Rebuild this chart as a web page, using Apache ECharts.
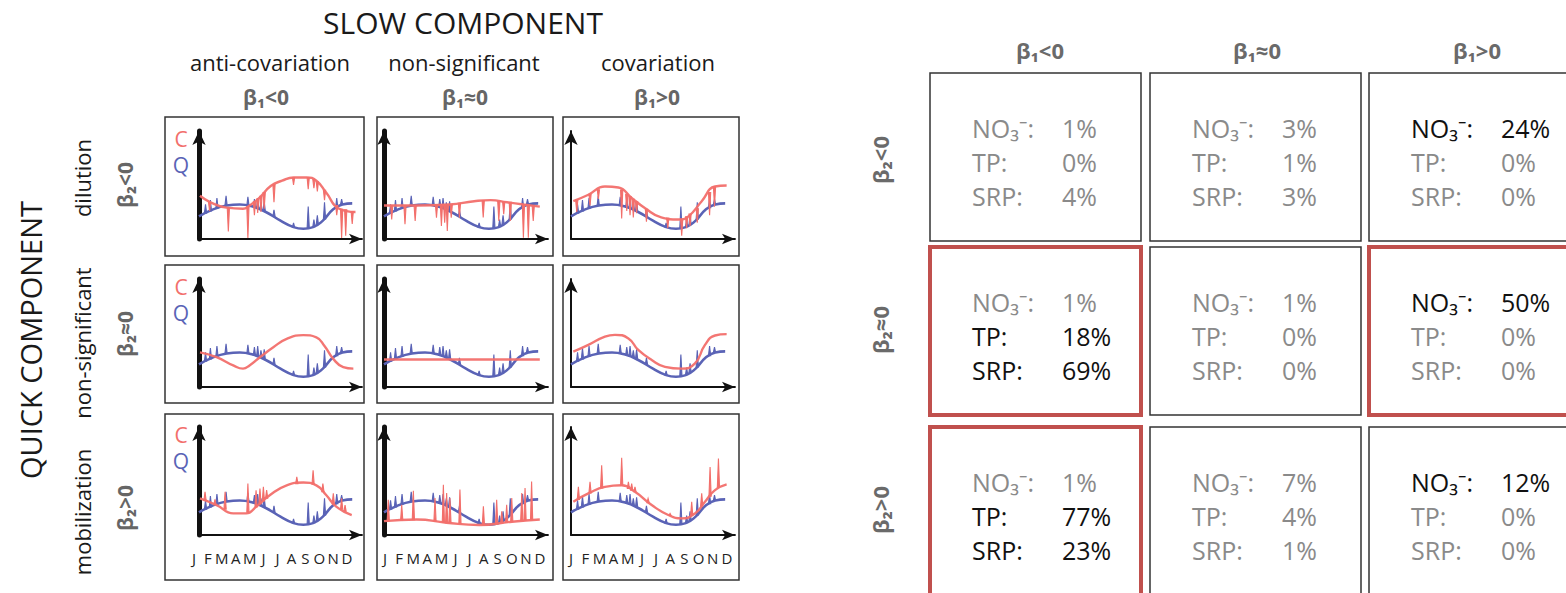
<!DOCTYPE html>
<html>
<head>
<meta charset="utf-8">
<script src="https://cdn.jsdelivr.net/npm/echarts@6/dist/echarts.min.js"></script>
<style>
  html, body { margin: 0; padding: 0; background: #fff; }
  #chart { width: 1566px; height: 593px; }
</style>
</head>
<body>
<div id="chart"></div>
<script>
// ---- labels ----
const MONTHS = ['J','F','M','A','M','J','J','A','S','O','N','D'];
const SLOW_TITLE = 'SLOW COMPONENT';
const QUICK_TITLE = 'QUICK COMPONENT';
const SLOW_NAMES = ['anti-covariation', 'non-significant', 'covariation'];
const QUICK_NAMES = ['dilution', 'non-significant', 'mobilization'];
const B1_LABELS = ['β₁<0', 'β₁≈0', 'β₁>0'];
const B2_LABELS = ['β₂<0', 'β₂≈0', 'β₂>0'];

// ---- discharge Q: seasonal baseline [t, level] and storm events [t, base, peak] ----
const Q_BASE = [[0,21],[8,27],[17,31],[25,32],[33,30],[41,25],[50,17],[58,11],[64,9.5],[70,11],[76,17],[82,27],[88,32],[94,33]];
const Q_EVENTS = [[4,24,32],[7,26,36],[11,28.5,38],[16.6,31,40],[30,31,39],[34,29.5,37],[36,28.5,38],[38,27.5,34],[40,26,35],[46,21,27],[58,11,15],[67,10,30],[70.5,11.5,18],[72.6,13.5,22],[77,18.5,34],[84.5,29,38],[87.5,32,37]];

// ---- concentration C baselines, one per panel (row = quick, column = slow) ----
const C_DIL_ANTI = [[0.6,40],[7,34],[17,29],[27,28],[31,31],[37,38],[44,49],[51,54],[58,57],[66,57],[72,54],[78,43],[86,28],[96,25]];
const C_DIL_NS   = [[0,31],[20,31],[40,32],[55,35],[65,36],[75,34],[85,32],[95,30]];
const C_DIL_COV  = [[1.4,35],[10.6,41],[20.7,48.6],[28.9,47.7],[37,38],[45,28.7],[55,20],[65.5,18],[71.6,21],[79.7,35],[87.8,48.6],[94.9,49.5]];
const C_NS_ANTI  = [[0.6,32],[10.8,27.6],[21,20],[27,17],[31,20],[37.4,27.6],[45.6,36.8],[53.8,44.5],[64,48],[72,46],[77,38],[82.4,26],[88.5,18.4],[94.7,17]];
const C_NS_NS    = [[0,25.5],[95,25.5]];
const C_NS_COV   = [[1.4,32.7],[10.6,39],[20.7,46.7],[26.8,48.3],[35,45],[41,34.3],[49.2,25],[57.3,18.7],[67.5,17],[75.6,21.8],[81.7,39],[87.8,47.7],[94.9,49]];
const C_MOB_ANTI = [[0.6,33.9],[10.8,27.7],[21,20],[29,20],[35,26],[43.6,37],[53.8,46],[64,48.6],[72,46],[78,37],[84.4,26],[93.7,18.5]];
const C_MOB_NS   = [[0,12.8],[20,14.4],[38,11.4],[58,9.2],[78,12.3],[95,14.4]];
const C_MOB_COV  = [[1.4,30.8],[10.6,38.5],[20.7,44.6],[30.9,46],[39,40],[49.2,27.7],[59.3,18.5],[67.5,15.4],[75.6,20],[81.7,30.8],[87.8,41.5],[94.9,46.8]];

// ---- concentration responses to events [t, base, tip] ----
const E_DIL_ANTI = [[6.5,34,26],[18,29,7],[30,30,1],[34,34.5,22],[36,37,24],[38,39.5,25],[40,43,28],[46,50.5,34],[58,57,50],[67,57,46],[70.5,55,47],[72.6,53,44],[77,45,36],[84.5,31,22],[87.5,27.5,1],[90,27,3],[94,25.5,14]];
const E_DIL_NS   = [[4.7,31,18],[12.8,31,13.6],[19,31,16.7],[32,32,19.8],[35,32,12],[37,32,15],[38.6,32,7.4],[41,32,19.8],[46,33,19.8],[60.5,35.5,20],[70,35,16.7],[73,34.5,23],[77,34,16.7],[85,32,1.2],[88,31.5,1.2],[91,31,16.7]];
const E_DIL_COV  = [[3.5,36,25],[11.6,41.5,31],[16.7,45.5,37],[30.9,45.3,19],[34,41.5,26],[36,39.2,22],[38,36.8,20],[40,34.4,24],[46,27.6,16],[59,19.3,10],[67.5,18.5,3],[70.5,20.5,10],[72.6,23,12],[77,28,15],[84.5,43,22],[87.5,48.6,30]];
const E_MOB_ANTI = [[3.7,32,40],[9.8,28,33],[16,24,40],[30,21,47.7],[35,26,41.5],[37.4,29,43],[39.5,31.5,44.6],[41.5,34,41.5],[60,47.5,53.8],[70,47,60],[76,40,47.7],[82.4,29,38.5],[87.5,24,34],[89.6,22,27.7]];
const E_MOB_NS   = [[2.6,13,32.7],[10.8,13.7,28],[17.9,14.2,41],[31.1,12.5,34.3],[36.2,11.6,46.5],[38.2,11.4,38.9],[40.2,11.2,34.3],[46.3,10.5,42],[60.6,9.3,26.6],[68.7,10.3,32.7],[71.8,11,22],[74.8,11.6,28],[77.9,12.3,34.3],[84,13.2,38.9],[86,13.6,43.5],[90,14,49.5]];
const E_MOB_COV  = [[4.5,33,44.6],[11.6,39,49.2],[18.7,43.5,64.6],[30.9,46,71.4],[35,43,49.2],[37,41.5,47.7],[39,40,44.6],[47,30,33.9],[60.4,18,20],[73.6,18,30.8],[79.7,27,38.5],[84.8,36,63],[89.9,44,70.8]];

// ---- share of sites per class (%), rows = β2 class, columns = β1 class ----
const NO3_PCT = [[1, 3, 24], [1, 1, 50], [1, 7, 12]];
const TP_PCT  = [[0, 1, 0], [18, 0, 0], [77, 4, 0]];
const SRP_PCT = [[4, 3, 0], [69, 0, 0], [23, 1, 0]];
const FRAMED_CELLS = [[1, 0], [2, 0], [1, 2]];

// ---- layout ----
const C_COLOR = '#f26f6b';
const Q_COLOR = '#5a63b6';
const FONT = '"Open Sans", "Noto Sans", sans-serif';

const PANEL_X = [[165, 364], [377, 553], [563, 739]];     // frame left/right per column
const PANEL_Y = [[117, 256], [265, 403], [414, 580]];     // frame top/bottom per row
const AXIS_X = [[199, 362], [384, 548], [571, 735]];      // origin / arrow tip
const AXIS_Y = [[131, 239], [279, 387], [427, 535]];      // arrow tip / origin
const Y_AXIS_W = [5, 5, 2];

const C_PANELS = [
  [C_DIL_ANTI, C_DIL_NS, C_DIL_COV],
  [C_NS_ANTI, C_NS_NS, C_NS_COV],
  [C_MOB_ANTI, C_MOB_NS, C_MOB_COV]
];
const C_EVENTS = [
  [E_DIL_ANTI, E_DIL_NS, E_DIL_COV],
  [[], [], []],
  [E_MOB_ANTI, E_MOB_NS, E_MOB_COV]
];

const chart = echarts.init(document.getElementById('chart'), null, { renderer: 'svg' });

const grids = [], xAxes = [], yAxes = [], series = [], graphics = [];

function spikes(idx, data, color, z) {
  return {
    type: 'custom', xAxisIndex: idx, yAxisIndex: idx, data: data, z: z, silent: true,
    encode: { x: 0, y: [1, 2] },
    renderItem: function (params, api) {
      const a = api.coord([api.value(0), api.value(1)]);
      const b = api.coord([api.value(0), api.value(2)]);
      return {
        type: 'polygon',
        shape: { points: [[a[0] - 1.1, a[1]], [b[0], b[1]], [a[0] + 1.1, a[1]]] },
        style: { fill: color, stroke: color, lineWidth: 1.1 }
      };
    }
  };
}

let gi = 0;
for (let r = 0; r < 3; r++) {
  for (let c = 0; c < 3; c++) {
    const ax = AXIS_X[c], ay = AXIS_Y[r];
    grids.push({ left: ax[0], top: ay[0], width: ax[1] - ax[0], height: ay[1] - ay[0] });
    xAxes.push({
      gridIndex: gi, type: 'value', min: 0, max: 100,
      axisLine: { show: true, symbol: ['none', 'arrow'], symbolSize: [8, 13], lineStyle: { color: '#111', width: 1.8 } },
      axisTick: { show: false }, axisLabel: { show: false }, splitLine: { show: false }
    });
    yAxes.push({
      gridIndex: gi, type: 'value', min: 0, max: 100,
      axisLine: { show: true, symbol: ['none', 'arrow'], symbolSize: [10, 14], lineStyle: { color: '#111', width: Y_AXIS_W[c] } },
      axisTick: { show: false }, axisLabel: { show: false }, splitLine: { show: false }
    });
    series.push({
      type: 'line', xAxisIndex: gi, yAxisIndex: gi, data: Q_BASE, smooth: 0.5,
      showSymbol: false, silent: true, z: 3, lineStyle: { color: Q_COLOR, width: 2.6 }
    });
    series.push(spikes(gi, Q_EVENTS, Q_COLOR, 3));
    series.push({
      type: 'line', xAxisIndex: gi, yAxisIndex: gi, data: C_PANELS[r][c], smooth: 0.5,
      showSymbol: false, silent: true, z: 4, lineStyle: { color: C_COLOR, width: 2.4, opacity: 0.95 }
    });
    if (C_EVENTS[r][c].length) series.push(spikes(gi, C_EVENTS[r][c], C_COLOR, 4));

    // panel frame
    graphics.push({
      type: 'rect', z: 1,
      shape: { x: PANEL_X[c][0], y: PANEL_Y[r][0], width: PANEL_X[c][1] - PANEL_X[c][0], height: PANEL_Y[r][1] - PANEL_Y[r][0] },
      style: { fill: 'none', stroke: '#333', lineWidth: 1.5 }
    });
    gi++;
  }
}

// month axes under the bottom row
const MONTH_SPAN = [[187, 354], [378, 547], [564, 734]];
for (let c = 0; c < 3; c++) {
  grids.push({ left: MONTH_SPAN[c][0], top: 540, width: MONTH_SPAN[c][1] - MONTH_SPAN[c][0], height: 2 });
  xAxes.push({
    gridIndex: gi, type: 'category', data: MONTHS.map((m, i) => i),
    axisLine: { show: false }, axisTick: { show: false }, splitLine: { show: false },
    axisLabel: { show: true, interval: 0, margin: 8, fontSize: 15, color: '#222', fontFamily: FONT,
      formatter: function (v) { return MONTHS[+v]; } }
  });
  yAxes.push({ gridIndex: gi, type: 'value', show: false });
  gi++;
}

// C / Q legend letters in the first column
for (let r = 0; r < 3; r++) {
  graphics.push({ type: 'text', x: 181, y: AXIS_Y[r][0] + 8, style: { text: 'C', fill: C_COLOR, font: '21px ' + FONT, align: 'center', verticalAlign: 'middle' } });
  graphics.push({ type: 'text', x: 181, y: AXIS_Y[r][0] + 34, style: { text: 'Q', fill: Q_COLOR, font: '21px ' + FONT, align: 'center', verticalAlign: 'middle' } });
}

function txt(x, y, text, font, fill, rot, align) {
  return {
    type: 'text', x: x, y: y, rotation: rot || 0, z: 5,
    style: { text: text, font: font, fill: fill, align: align || 'center', verticalAlign: 'middle' }
  };
}

// headers of the small multiples
graphics.push(txt(463, 22, SLOW_TITLE, '30px ' + FONT, '#1a1a1a'));
const COL_CX = [270, 464, 658];
const COL_BX = [266, 465, 657];
for (let c = 0; c < 3; c++) {
  graphics.push(txt(COL_CX[c], 62, SLOW_NAMES[c], '22px ' + FONT, '#1a1a1a'));
  graphics.push(txt(COL_BX[c], 97, B1_LABELS[c], 'bold 21px ' + FONT, '#666'));
}
graphics.push(txt(30, 340, QUICK_TITLE, '29px ' + FONT, '#1a1a1a', Math.PI / 2));
const ROW_CY = [178, 343, 512];
const ROW_BY = [185, 334, 508];
for (let r = 0; r < 3; r++) {
  graphics.push(txt(82, ROW_CY[r], QUICK_NAMES[r], '22px ' + FONT, '#1a1a1a', Math.PI / 2));
  graphics.push(txt(125, ROW_BY[r], B2_LABELS[r], 'bold 21px ' + FONT, '#666', Math.PI / 2));
}

// ---- summary table ----
const CELL_X = [930, 1150, 1369];
const CELL_Y = [73, 247, 427];
const CELL_W = 211, CELL_H = 168;
const HEAD_X = [1040, 1257, 1477];
const HEAD_Y = [160, 330, 510];
for (let c = 0; c < 3; c++) graphics.push(txt(HEAD_X[c], 50, B1_LABELS[c], 'bold 22px ' + FONT, '#6a6a6a'));
for (let r = 0; r < 3; r++) graphics.push(txt(880, HEAD_Y[r], B2_LABELS[r], 'bold 22px ' + FONT, '#6a6a6a', Math.PI / 2));

const framed = (r, c) => FRAMED_CELLS.some(p => p[0] === r && p[1] === c);
const ROW_NAMES = ['NO₃⁻:', 'TP:', 'SRP:'];
const TABLES = [NO3_PCT, TP_PCT, SRP_PCT];
for (let r = 0; r < 3; r++) {
  for (let c = 0; c < 3; c++) {
    const red = framed(r, c);
    graphics.push({
      type: 'rect', z: red ? 2 : 1,
      shape: { x: CELL_X[c], y: CELL_Y[r], width: CELL_W, height: CELL_H },
      style: { fill: 'none', stroke: red ? '#c0504d' : '#333', lineWidth: red ? 4 : 1.5 }
    });
    for (let k = 0; k < 3; k++) {
      const v = TABLES[k][r][c];
      const col = v >= 10 ? '#111' : '#8a8a8a';
      const y = CELL_Y[r] + 55 + k * 34;
      graphics.push(txt(CELL_X[c] + 42, y, ROW_NAMES[k], '25px ' + FONT, col, 0, 'left'));
      graphics.push(txt(CELL_X[c] + 132, y, v + '%', '25px ' + FONT, col, 0, 'left'));
    }
  }
}

chart.setOption({
  animation: false,
  backgroundColor: '#fff',
  grid: grids, xAxis: xAxes, yAxis: yAxes, series: series,
  graphic: { elements: graphics }
});
</script>
</body>
</html>
